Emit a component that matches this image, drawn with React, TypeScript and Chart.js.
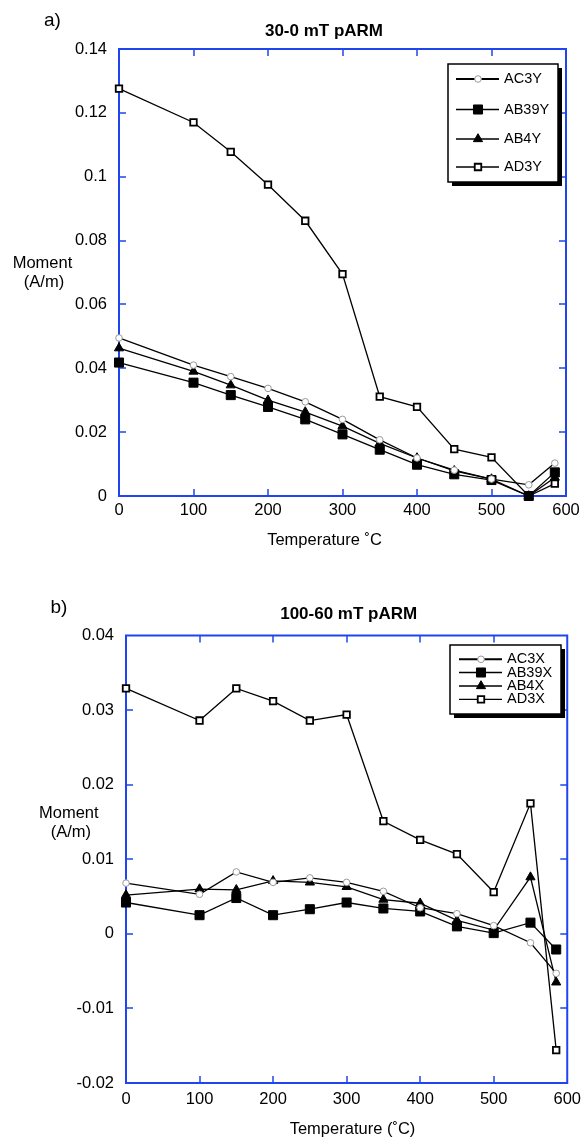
import React, { useEffect, useRef } from 'react';
import { Chart, registerables } from 'chart.js';

Chart.register(...registerables);

const FONT = '"Liberation Sans", Arial, Helvetica, sans-serif';
const BLUE = '#1f45ee';

// ---- data ----
const temperatures = [0, 100, 150, 200, 250, 300, 350, 400, 450, 500, 550, 585];

const seriesNamesA = ['AC3Y', 'AB39Y', 'AB4Y', 'AD3Y'];
const ac3y = [0.0495, 0.041, 0.0374, 0.0337, 0.0295, 0.024, 0.0176, 0.0119, 0.0081, 0.0053, 0.0035, 0.0103];
const ab39y = [0.0418, 0.0355, 0.0316, 0.0279, 0.024, 0.0193, 0.0145, 0.0098, 0.0068, 0.005, 0.0, 0.0074];
const ab4y = [0.0463, 0.039, 0.0347, 0.03, 0.0263, 0.0219, 0.0165, 0.0119, 0.0079, 0.0053, 0.0, 0.0058];
const ad3y = [0.1276, 0.117, 0.1078, 0.0975, 0.0862, 0.0695, 0.0311, 0.0279, 0.0147, 0.0121, 0.0, 0.0039];

const seriesNamesB = ['AC3X', 'AB39X', 'AB4X', 'AD3X'];
const ac3x = [0.0068, 0.0053, 0.0083, 0.0069, 0.0075, 0.0069, 0.0057, 0.0035, 0.0027, 0.0011, -0.0012, -0.0053];
const ab39x = [0.0042, 0.0025, 0.0048, 0.0025, 0.0033, 0.0042, 0.0034, 0.003, 0.001, 0.0001, 0.0015, -0.0021];
const ab4x = [0.0052, 0.006, 0.0059, 0.0071, 0.0069, 0.0063, 0.0046, 0.0041, 0.0018, 0.0005, 0.0076, -0.0065];
const ad3x = [0.0329, 0.0286, 0.0329, 0.0312, 0.0286, 0.0294, 0.0151, 0.0126, 0.0107, 0.0056, 0.0175, -0.0156];

const titleA = '30-0 mT pARM';
const titleB = '100-60 mT pARM';
const xTitleA = 'Temperature ˚C';
const xTitleB = 'Temperature (˚C)';
const yTitleLines = ['Moment', '(A/m)'];

// ---- styles ----
const markerStyles = [
  { pointStyle: 'circle', pointRadius: 3.3, pointBackgroundColor: '#ffffff', pointBorderColor: '#9a9a9a', pointBorderWidth: 1 },
  { pointStyle: 'rect', pointRadius: 6.4, pointBackgroundColor: '#000000', pointBorderColor: '#000000', pointBorderWidth: 1 },
  { pointStyle: 'triangle', pointRadius: 5.3, pointBackgroundColor: '#000000', pointBorderColor: '#000000', pointBorderWidth: 1 },
  { pointStyle: 'rect', pointRadius: 4.6, pointBackgroundColor: '#ffffff', pointBorderColor: '#000000', pointBorderWidth: 1.8 },
];

function buildDatasets(names: string[], series: number[][]) {
  return names.map((name, i) => ({
    label: name,
    data: temperatures.map((t, j) => ({ x: t, y: series[i][j] })),
    borderColor: '#000000',
    borderWidth: 1.3,
    fill: false,
    tension: 0,
    clip: false as any,
    ...markerStyles[i],
  }));
}

function fmt(v: number) {
  return String(Number(v.toFixed(4)));
}

function drawMarker(ctx: CanvasRenderingContext2D, style: any, x: number, y: number) {
  const r = style.pointRadius;
  ctx.save();
  ctx.fillStyle = style.pointBackgroundColor;
  ctx.strokeStyle = style.pointBorderColor;
  ctx.lineWidth = style.pointBorderWidth;
  ctx.beginPath();
  if (style.pointStyle === 'circle') {
    ctx.arc(x, y, r, 0, Math.PI * 2);
  } else if (style.pointStyle === 'rect') {
    const s = Math.SQRT1_2 * r;
    ctx.rect(x - s, y - s, 2 * s, 2 * s);
  } else if (style.pointStyle === 'triangle') {
    let a = 0;
    ctx.moveTo(x + Math.sin(a) * r, y - Math.cos(a) * r);
    a += (2 * Math.PI) / 3;
    ctx.lineTo(x + Math.sin(a) * r, y - Math.cos(a) * r);
    a += (2 * Math.PI) / 3;
    ctx.lineTo(x + Math.sin(a) * r, y - Math.cos(a) * r);
    ctx.closePath();
  }
  ctx.fill();
  ctx.stroke();
  ctx.restore();
}

const framePlugin = {
  id: 'frame',
  beforeDatasetsDraw(chart: any) {
    const { ctx, chartArea: a, scales } = chart;
    ctx.save();
    ctx.strokeStyle = BLUE;
    ctx.lineWidth = 1.5;
    const tl = 7;
    ctx.beginPath();
    scales.x.ticks.forEach((t: any) => {
      const px = Math.round(scales.x.getPixelForValue(t.value));
      if (px <= a.left + 2 || px >= a.right - 2) return;
      ctx.moveTo(px, a.bottom);
      ctx.lineTo(px, a.bottom - tl);
      ctx.moveTo(px, a.top);
      ctx.lineTo(px, a.top + tl);
    });
    scales.y.ticks.forEach((t: any) => {
      const py = Math.round(scales.y.getPixelForValue(t.value));
      if (py <= a.top + 2 || py >= a.bottom - 2) return;
      ctx.moveTo(a.left, py);
      ctx.lineTo(a.left + tl, py);
      ctx.moveTo(a.right, py);
      ctx.lineTo(a.right - tl, py);
    });
    ctx.stroke();
    ctx.lineWidth = 2;
    ctx.strokeRect(a.left, a.top, a.right - a.left, a.bottom - a.top);
    ctx.restore();
  },
  afterDraw(chart: any, _args: any, opts: any) {
    const { ctx } = chart;
    ctx.save();
    ctx.fillStyle = '#000000';
    ctx.textBaseline = 'middle';
    // panel letter
    ctx.font = `19px ${FONT}`;
    ctx.textAlign = 'left';
    ctx.fillText(opts.letter, opts.letterX, opts.letterY);
    // title
    ctx.font = `bold 17px ${FONT}`;
    ctx.textAlign = 'center';
    ctx.fillText(opts.title, opts.titleX, opts.titleY);
    // x title
    ctx.font = `16.5px ${FONT}`;
    ctx.fillText(opts.xTitle, opts.xTitleX, opts.xTitleY);
    // y title
    opts.yLines.forEach((ln: string, i: number) => {
      ctx.fillText(ln, opts.yTitleX[i], opts.yTitleY[i]);
    });
    // legend box
    const L = opts.legend;
    ctx.fillStyle = '#000000';
    ctx.fillRect(L.left + 4, L.top + 4, L.right - L.left, L.bottom - L.top);
    ctx.fillStyle = '#ffffff';
    ctx.fillRect(L.left, L.top, L.right - L.left, L.bottom - L.top);
    ctx.strokeStyle = '#000000';
    ctx.lineWidth = 1.5;
    ctx.strokeRect(L.left, L.top, L.right - L.left, L.bottom - L.top);
    ctx.font = `14.5px ${FONT}`;
    ctx.textAlign = 'left';
    chart.data.datasets.forEach((ds: any, i: number) => {
      const y = L.rows[i];
      ctx.strokeStyle = '#000000';
      ctx.lineWidth = i === 0 ? 2 : 1.3;
      ctx.beginPath();
      ctx.moveTo(L.lineX1, y);
      ctx.lineTo(L.lineX2, y);
      ctx.stroke();
      drawMarker(ctx, ds, L.markX, y);
      ctx.fillStyle = '#000000';
      ctx.fillText(ds.label, L.textX, y);
    });
    ctx.restore();
  },
};

function makeConfig(
  datasets: any[],
  yMin: number,
  yMax: number,
  yStep: number,
  yWidth: number,
  xHeight: number,
  padding: any,
  xPad: number,
  frameOpts: any
): any {
  return {
    type: 'line',
    data: { datasets },
    options: {
      responsive: false,
      animation: false,
      events: [],
      layout: { padding },
      scales: {
        x: {
          type: 'linear',
          min: 0,
          max: 600,
          grid: { display: false, drawTicks: false },
          border: { display: false },
          ticks: {
            stepSize: 100,
            padding: xPad,
            color: '#000000',
            font: { family: FONT, size: 16.5 },
            maxRotation: 0,
            callback: (v: any) => fmt(Number(v)),
          },
          afterFit: (s: any) => {
            s.height = xHeight;
          },
        },
        y: {
          type: 'linear',
          min: yMin,
          max: yMax,
          grid: { display: false, drawTicks: false },
          border: { display: false },
          ticks: {
            stepSize: yStep,
            padding: 12,
            color: '#000000',
            font: { family: FONT, size: 16.5 },
            callback: (v: any) => fmt(Number(v)),
          },
          afterFit: (s: any) => {
            s.width = yWidth;
          },
        },
      },
      plugins: {
        legend: { display: false },
        tooltip: { enabled: false },
        title: { display: false },
        frame: frameOpts,
      },
    },
    plugins: [framePlugin],
  };
}

function ChartCanvas({ config, top, height }: { config: () => any; top: number; height: number }) {
  const ref = useRef<HTMLCanvasElement | null>(null);
  useEffect(() => {
    if (!ref.current) return;
    const chart = new Chart(ref.current, config());
    return () => chart.destroy();
  }, []);
  return (
    <canvas
      ref={ref}
      width={588}
      height={height}
      style={{ position: 'absolute', left: 0, top, width: 588, height, display: 'block' }}
    />
  );
}

export default function App() {
  const configA = () =>
    makeConfig(
      buildDatasets(seriesNamesA, [ac3y, ab39y, ab4y, ad3y]),
      0,
      0.14,
      0.02,
      119,
      74,
      { top: 49, right: 22, left: 0, bottom: 0 },
      5,
      {
        letter: 'a)',
        letterX: 44,
        letterY: 21,
        title: titleA,
        titleX: 324,
        titleY: 31,
        xTitle: xTitleA,
        xTitleX: 324.5,
        xTitleY: 540,
        yLines: yTitleLines,
        yTitleX: [42.5, 44],
        yTitleY: [263.5, 282.5],
        legend: {
          left: 448,
          top: 64,
          right: 558,
          bottom: 182,
          rows: [79, 109.5, 139, 167],
          lineX1: 456,
          lineX2: 499,
          markX: 478,
          textX: 504,
        },
      }
    );
  const configB = () =>
    makeConfig(
      buildDatasets(seriesNamesB, [ac3x, ab39x, ab4x, ad3x]),
      -0.02,
      0.04,
      0.01,
      126,
      54,
      { top: 65.5, right: 15.5, left: 0, bottom: 0 },
      7,
      {
        letter: 'b)',
        letterX: 50.5,
        letterY: 37.5,
        title: titleB,
        titleX: 348.7,
        titleY: 44,
        xTitle: xTitleB,
        xTitleX: 352.5,
        xTitleY: 559,
        yLines: yTitleLines,
        yTitleX: [68.8, 70.8],
        yTitleY: [243, 262],
        legend: {
          left: 450,
          top: 75,
          right: 561,
          bottom: 144,
          rows: [89.3, 102.5, 116, 129.3],
          lineX1: 459,
          lineX2: 502,
          markX: 481,
          textX: 507,
        },
      }
    );
  return (
    <div style={{ position: 'absolute', left: 0, top: 0, width: 588, height: 1137, background: '#ffffff' }}>
      <ChartCanvas config={configA} top={0} height={570} />
      <ChartCanvas config={configB} top={570} height={567} />
    </div>
  );
}
